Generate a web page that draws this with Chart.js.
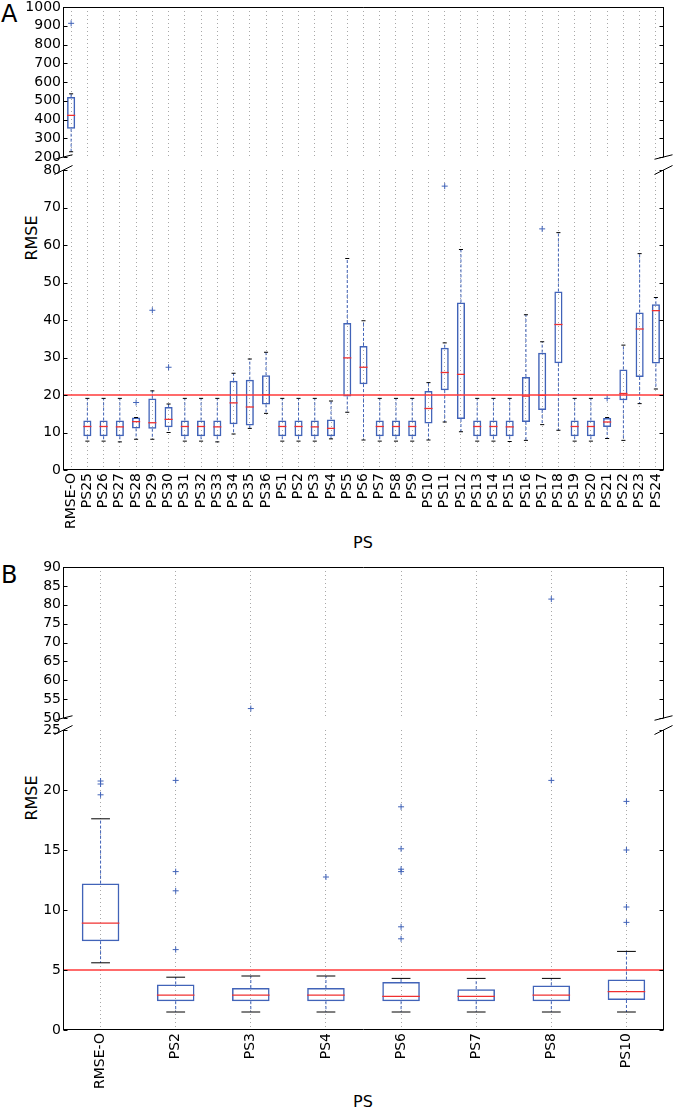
<!DOCTYPE html>
<html>
<head>
<meta charset="utf-8">
<script src="https://cdn.jsdelivr.net/npm/chart.js@4.4.0/dist/chart.umd.min.js"></script>
<style>
    body { margin: 0; background: #fff; width: 673px; height: 1110px; position: relative; overflow: hidden; font-family: 'DejaVu Sans', sans-serif; }
    canvas { position: absolute; left: 0; }
    .lbl { position: absolute; color: #000; white-space: nowrap; line-height: 1; }
    .rot { transform: translate(-50%, -50%) rotate(-90deg); }
    .ctr { transform: translate(-50%, -50%); }
</style>
</head>
<body>
<div class="lbl" style="left:1px;top:2px;font-size:24px">A</div>
<div class="lbl" style="left:1px;top:563px;font-size:24px">B</div>
<div class="lbl rot" style="left:32px;top:238px;font-size:16px">RMSE</div>
<div class="lbl rot" style="left:32px;top:798px;font-size:16px">RMSE</div>
<div class="lbl ctr" style="left:363px;top:543px;font-size:16px">PS</div>
<div class="lbl ctr" style="left:363px;top:1102px;font-size:16px">PS</div>

<canvas id="a1" width="673" height="166" style="top:0px"></canvas>
<canvas id="a2" width="673" height="420" style="top:160px"></canvas>
<canvas id="b1" width="673" height="166" style="top:560px"></canvas>
<canvas id="b2" width="673" height="390" style="top:720px"></canvas>

<script>
// ---- Panel A data ----
const labelsA = ['RMSE-O', 'PS25', 'PS26', 'PS27', 'PS28', 'PS29', 'PS30', 'PS31', 'PS32', 'PS33', 'PS34', 'PS35', 'PS36',
    'PS1', 'PS2', 'PS3', 'PS4', 'PS5', 'PS6', 'PS7', 'PS8', 'PS9', 'PS10', 'PS11', 'PS12',
    'PS13', 'PS14', 'PS15', 'PS16', 'PS17', 'PS18', 'PS19', 'PS20', 'PS21', 'PS22', 'PS23', 'PS24'];
const lowA = [228, 7.7, 7.7, 7.5, 8.2, 8.2, 10.0, 7.7, 7.7, 7.5, 9.6, 11.1, 15.1,
    7.7, 7.7, 7.7, 8.3, 15.4, 8.0, 7.7, 7.7, 7.7, 8.0, 12.8, 10.2,
    7.7, 7.7, 7.6, 7.9, 12.1, 10.6, 7.7, 7.7, 8.4, 7.9, 17.7, 21.6];
const q1A = [351, 9.0, 9.0, 9.0, 11.1, 11.0, 11.4, 9.0, 9.0, 9.0, 12.2, 11.9, 17.5,
    9.0, 9.0, 9.0, 9.0, 19.6, 22.9, 9.0, 9.0, 9.0, 12.4, 21.3, 13.6,
    9.0, 9.0, 9.0, 12.8, 16.0, 28.5, 9.0, 9.0, 11.5, 18.6, 24.8, 28.4];
const medA = [422, 11.6, 11.6, 11.5, 12.9, 12.6, 13.5, 11.6, 11.6, 11.5, 17.9, 16.8, 20.1,
    11.6, 11.6, 11.5, 11.1, 29.9, 27.4, 11.6, 11.6, 11.6, 16.4, 26.0, 25.5,
    11.6, 11.6, 11.5, 19.7, 19.9, 38.8, 11.6, 11.6, 12.8, 20.4, 37.6, 42.5];
const q3A = [520, 13.2, 13.2, 13.2, 14.0, 19.1, 16.8, 13.2, 13.2, 13.2, 23.8, 24.1, 25.3,
    13.2, 13.2, 13.2, 13.5, 39.2, 33.1, 13.2, 13.2, 13.2, 21.1, 32.6, 44.7,
    13.2, 13.2, 13.2, 24.8, 31.3, 47.6, 13.2, 13.2, 13.9, 26.8, 42.0, 44.2];
const highA = [537, 19.1, 19.1, 19.1, 14.0, 21.1, 17.6, 19.1, 19.1, 19.1, 25.8, 29.6, 31.4,
    19.1, 19.1, 19.1, 18.4, 56.4, 39.8, 19.1, 19.1, 19.1, 23.3, 33.9, 58.8,
    19.1, 19.1, 19.1, 41.4, 34.2, 63.3, 19.1, 19.1, 14.0, 33.3, 57.7, 46.0];
const outCatA = ['RMSE-O', 'PS28', 'PS29', 'PS30', 'PS11', 'PS17', 'PS21'];
const outValA = [913, 18.0, 42.6, 27.4, 75.7, 64.3, 19.1];
const limitA = 20;

// ---- Panel B data ----
const labelsB = ['RMSE-O', 'PS2', 'PS3', 'PS4', 'PS6', 'PS7', 'PS8', 'PS10'];
const lowB = [5.6, 1.5, 1.5, 1.5, 1.5, 1.5, 1.5, 1.5];
const q1B = [7.4, 2.4, 2.4, 2.4, 2.4, 2.4, 2.4, 2.5];
const medB = [8.9, 2.9, 2.9, 2.9, 2.8, 2.8, 2.9, 3.2];
const q3B = [12.2, 3.8, 3.5, 3.5, 4.0, 3.4, 3.7, 4.2];
const highB = [17.6, 4.4, 4.5, 4.5, 4.3, 4.3, 4.3, 6.55];
const outCatB = ['RMSE-O', 'RMSE-O', 'RMSE-O', 'PS2', 'PS2', 'PS2', 'PS2', 'PS3', 'PS4',
    'PS6', 'PS6', 'PS6', 'PS6', 'PS6', 'PS6', 'PS8', 'PS8', 'PS10', 'PS10', 'PS10', 'PS10'];
const outValB = [20.75, 20.5, 19.6, 20.8, 13.2, 11.6, 6.7, 52.5, 12.75,
    18.6, 15.1, 13.4, 13.2, 8.6, 7.6, 81.5, 20.8, 19.05, 15.0, 10.25, 8.97];
const limitB = 5;

const BLUE = '#4163b8';
const RED = '#f03030';
const FONT = { family: 'DejaVu Sans', size: 14 };

function strokeLine(ctx, x1, y1, x2, y2) {
    ctx.beginPath();
    ctx.moveTo(x1, y1);
    ctx.lineTo(x2, y2);
    ctx.stroke();
}

// whiskers, caps, medians, limit line, frame and break marks
const boxPlugin = {
    id: 'boxParts',
    beforeDatasetsDraw(chart, args, opts) {
        const { ctx, chartArea: a, scales: { x, y } } = chart;
        const s = opts.stats;
        ctx.save();
        ctx.beginPath();
        ctx.rect(a.left, a.top, a.right - a.left, a.bottom - a.top);
        ctx.clip();
        ctx.strokeStyle = BLUE;
        ctx.lineWidth = 1;
        ctx.setLineDash([3, 2]);
        s.labels.forEach((lab, i) => {
            const cx = x.getPixelForValue(i);
            strokeLine(ctx, cx, y.getPixelForValue(s.q3[i]), cx, y.getPixelForValue(s.high[i]));
            strokeLine(ctx, cx, y.getPixelForValue(s.q1[i]), cx, y.getPixelForValue(s.low[i]));
        });
        ctx.restore();
    },
    afterDatasetsDraw(chart, args, opts) {
        const { ctx, chartArea: a, scales: { x, y } } = chart;
        const s = opts.stats;
        const bw = x.getPixelForValue(1) - x.getPixelForValue(0);

        ctx.save();
        ctx.beginPath();
        ctx.rect(a.left, a.top, a.right - a.left, a.bottom - a.top);
        ctx.clip();
        s.labels.forEach((lab, i) => {
            const cx = x.getPixelForValue(i);
            ctx.strokeStyle = '#000';
            ctx.lineWidth = 1;
            const cap = bw * 0.125;
            const yh = y.getPixelForValue(s.high[i]);
            const yl = y.getPixelForValue(s.low[i]);
            strokeLine(ctx, cx - cap, yh, cx + cap, yh);
            strokeLine(ctx, cx - cap, yl, cx + cap, yl);
            ctx.strokeStyle = RED;
            ctx.lineWidth = 1.3;
            const ym = y.getPixelForValue(s.med[i]);
            strokeLine(ctx, cx - bw * 0.25, ym, cx + bw * 0.25, ym);
        });
        // limit line
        const yl = y.getPixelForValue(opts.limit);
        ctx.strokeStyle = '#ff3a3a';
        ctx.lineWidth = 1.3;
        strokeLine(ctx, a.left, yl, a.right, yl);
        ctx.restore();

        // frame + inward ticks
        ctx.save();
        ctx.strokeStyle = '#000';
        ctx.lineWidth = 1;
        const L = a.left + 0.5, R = a.right - 0.5, T = a.top, B = a.bottom;
        strokeLine(ctx, L, T, L, B);
        strokeLine(ctx, R, T, R, B);
        if (opts.part === 'upper') strokeLine(ctx, L, T + 0.5, R, T + 0.5);
        else strokeLine(ctx, L, B - 0.5, R, B - 0.5);
        y.ticks.forEach(t => {
            const py = Math.round(y.getPixelForValue(t.value)) + 0.5;
            strokeLine(ctx, L, py, L + 4, py);
            strokeLine(ctx, R - 4, py, R, py);
        });
        // break marks
        const dx = 9, dy = 0.015 * (B - T);
        const yb = opts.part === 'upper' ? B : T;
        strokeLine(ctx, L - dx, yb + dy, L + dx, yb - dy);
        strokeLine(ctx, R - dx, yb + dy, R + dx, yb - dy);
        ctx.restore();
    }
};

function makeChart(id, labels, stats, outCat, outVal, limit, yMin, yMax, yStep, part, xHeight, pad) {
    const lower = part === 'lower';
    return new Chart(document.getElementById(id), {
        type: 'bar',
        data: {
            labels: labels,
            datasets: [{
                data: stats.q1.map((v, i) => [v, stats.q3[i]]),
                backgroundColor: 'rgba(0,0,0,0)',
                borderColor: BLUE,
                borderWidth: 1.5,
                borderSkipped: false,
                barPercentage: 0.5,
                categoryPercentage: 1
            }, {
                type: 'line',
                showLine: false,
                data: outCat.map((c, i) => ({ x: c, y: outVal[i] })),
                pointStyle: 'cross',
                pointRadius: 3,
                pointBorderWidth: 1,
                borderColor: BLUE,
                backgroundColor: BLUE
            }]
        },
        options: {
            responsive: false,
            animation: false,
            layout: { padding: { left: 0, right: 9, top: pad.top, bottom: pad.bottom } },
            plugins: {
                legend: { display: false },
                tooltip: { enabled: false },
                boxParts: { stats: stats, limit: limit, part: part }
            },
            scales: {
                x: {
                    type: 'category',
                    offset: true,
                    ticks: {
                        display: lower,
                        autoSkip: false,
                        minRotation: 90,
                        maxRotation: 90,
                        padding: 3,
                        color: '#000',
                        font: FONT
                    },
                    grid: { color: '#a8a8a8', offset: false, drawTicks: false, lineWidth: 1 },
                    border: { display: false, dash: [1, 3] },
                    afterFit: s => { s.height = xHeight; s.paddingLeft = 0; s.paddingRight = 0; }
                },
                y: {
                    min: yMin,
                    max: yMax,
                    ticks: {
                        stepSize: yStep,
                        autoSkip: false,
                        padding: 2,
                        color: '#000',
                        font: FONT,
                        callback: v => String(v)
                    },
                    grid: { display: false, drawTicks: false },
                    border: { display: false },
                    afterFit: s => { s.width = 63; s.paddingTop = 0; s.paddingBottom = 0; }
                }
            }
        },
        plugins: [boxPlugin]
    });
}

const statsA = { labels: labelsA, low: lowA, q1: q1A, med: medA, q3: q3A, high: highA };
const statsB = { labels: labelsB, low: lowB, q1: q1B, med: medB, q3: q3B, high: highB };

makeChart('a1', labelsA, statsA, outCatA, outValA, limitA, 200, 1000, 100, 'upper', 0, { top: 7, bottom: 9 });
makeChart('a2', labelsA, statsA, outCatA, outValA, limitA, 0, 80, 10, 'lower', 110, { top: 10, bottom: 0 });
makeChart('b1', labelsB, statsB, outCatB, outValB, limitB, 50, 90, 5, 'upper', 0, { top: 7, bottom: 8 });
makeChart('b2', labelsB, statsB, outCatB, outValB, limitB, 0, 25, 5, 'lower', 80, { top: 10, bottom: 0 });
</script>
</body>
</html>
